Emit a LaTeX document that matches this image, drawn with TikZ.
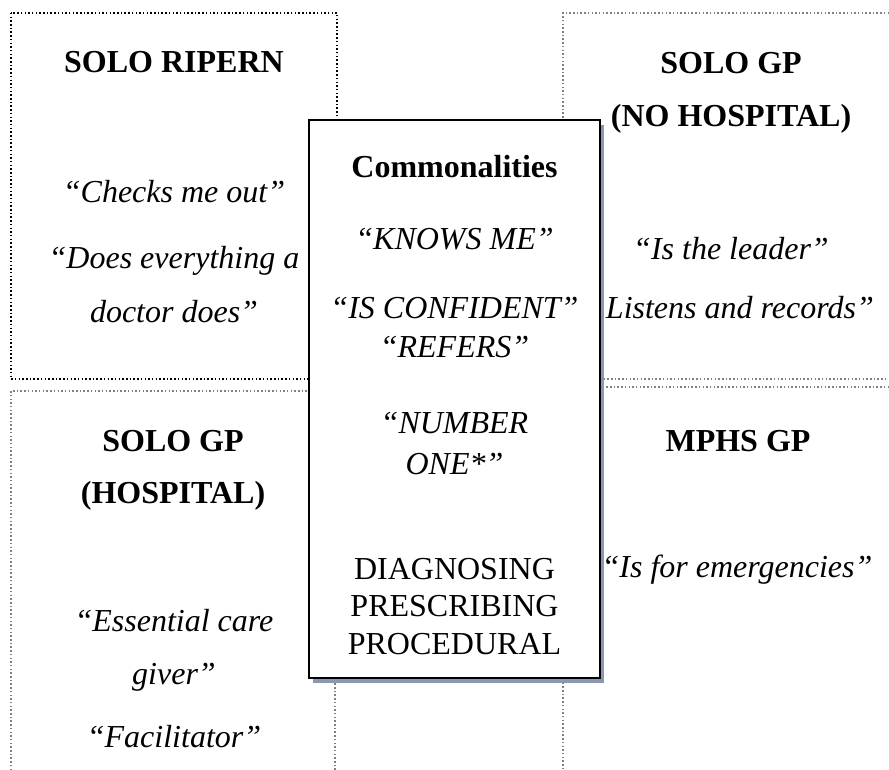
\documentclass[tikz,border=0pt]{standalone}
\usepackage{fontspec}
\setmainfont{Liberation Serif}
\definecolor{shadowblue}{RGB}{138,152,176}
\begin{document}
\begin{tikzpicture}[x=1pt,y=-1pt,
    heading/.style={anchor=base,font=\fontsize{32}{38}\selectfont\bfseries},
    quote/.style={anchor=base,font=\fontsize{32}{38}\selectfont\itshape},
    plain/.style={anchor=base,font=\fontsize{32}{38}\selectfont},
    dotbox/.style={line width=1.5pt,dash pattern=on 1.5pt off 2.2pt}]
  \useasboundingbox (0,0) rectangle (889,770);
  % dotted quadrants
  \draw[dotbox,black] (11,13) rectangle (337,379);
  \draw[dotbox,gray] (889,13) -- (563,13) -- (563,379) -- (889,379);
  \draw[dotbox,gray] (11,770) -- (11,391) -- (335,391) -- (335,770);
  \draw[dotbox,gray] (889,387) -- (563,387) -- (563,770);
  % top left
  \node[heading] (ripern) at (174,73) {SOLO RIPERN};
  \node[quote] (checks) at (174,203) {“Checks me out”};
  \node[quote] (does) at (174,269) {“Does everything a};
  \node[quote] (doctor) at (174,322) {doctor does”};
  % top right
  \node[heading] (gp) at (731,74) {SOLO GP};
  \node[heading] (nohosp) at (731,127) {(NO HOSPITAL)};
  \node[quote] (leader) at (731,260) {“Is the leader”};
  \node[quote] (listens) at (731,318) {“Listens and records”};
  % bottom left
  \node[heading] (gph) at (173,451) {SOLO GP};
  \node[heading] (hosp) at (173,503) {(HOSPITAL)};
  \node[quote] (essential) at (174,631) {“Essential care};
  \node[quote] (giver) at (174,684) {giver”};
  \node[quote] (facil) at (174,747) {“Facilitator”};
  % bottom right
  \node[heading] (mphs) at (738,451) {MPHS GP};
  \node[quote] (emerg) at (737,577) {“Is for emergencies”};
  % commonalities box
  \fill[shadowblue] (313,125) rectangle (604,683);
  \node[draw,line width=2.5pt,fill=white,minimum width=291pt,
    minimum height=558pt,inner sep=0pt] (common) at (454.5,399) {};
  \node[heading] (title) at (454.5,178) {Commonalities};
  \node[quote] (knows) at (454.5,250) {“KNOWS ME”};
  \node[quote] (confident) at (454.5,318) {“IS CONFIDENT”};
  \node[quote] (refers) at (454.5,357) {“REFERS”};
  \node[quote] (number) at (454.5,433) {“NUMBER};
  \node[quote] (one) at (454.5,474) {ONE*”};
  \node[plain] (diag) at (454.5,579) {DIAGNOSING};
  \node[plain] (presc) at (454.5,616) {PRESCRIBING};
  \node[plain] (proc) at (454.5,654) {PROCEDURAL};
\end{tikzpicture}
\end{document}
